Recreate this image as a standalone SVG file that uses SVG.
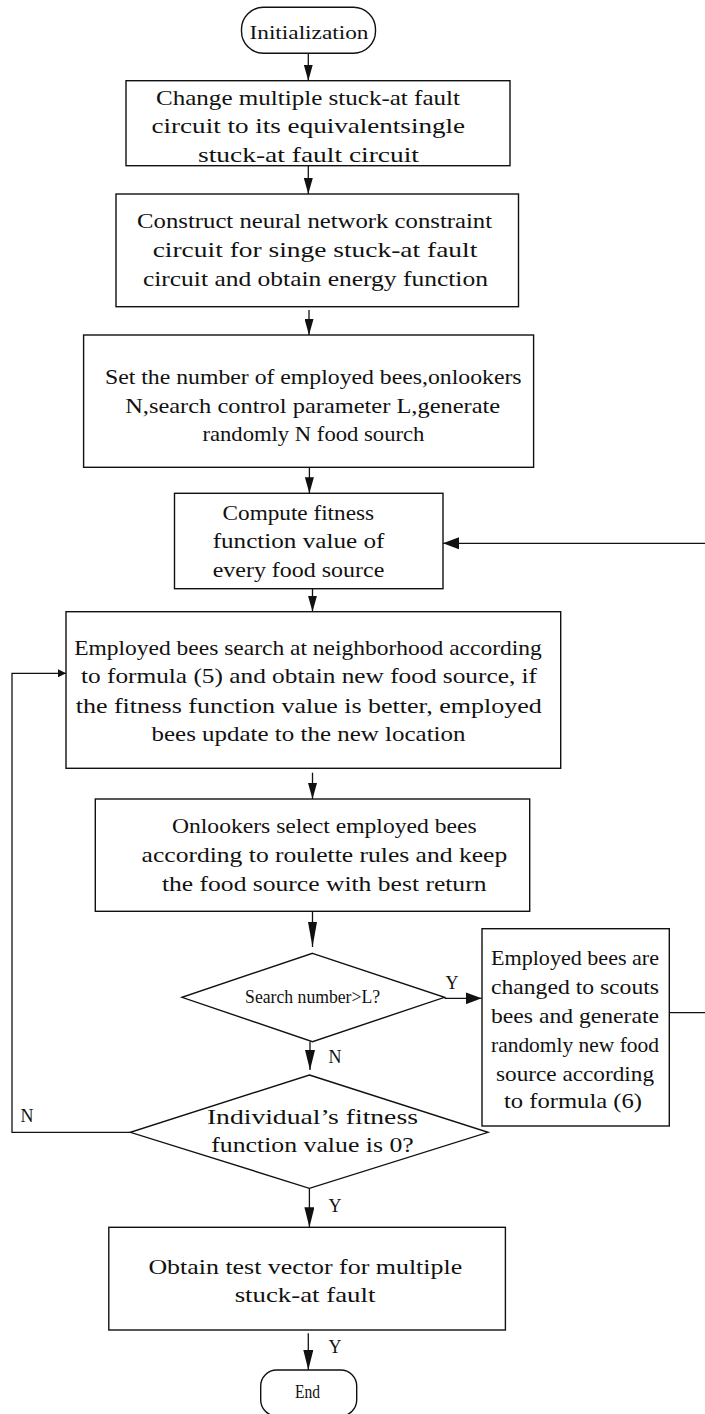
<svg xmlns="http://www.w3.org/2000/svg" width="705" height="1414" viewBox="0 0 705 1414">
<style>
.box{fill:#fff;stroke:#111;stroke-width:1.4}
.ln{fill:none;stroke:#111;stroke-width:1.3}
text{font-family:"Liberation Serif","Noto Serif",serif;fill:#111;text-anchor:middle}
.t{font-size:22px}
.s{font-size:19px}
.l{font-size:18px}
.ah{fill:#111}
</style>
<defs>
<marker id="m16" markerUnits="userSpaceOnUse" markerWidth="16" markerHeight="9" refX="16" refY="4.5" orient="auto"><path class="ah" d="M0,0 L16,4.5 L0,9 z"/></marker>
<marker id="m20" markerUnits="userSpaceOnUse" markerWidth="20" markerHeight="10" refX="20" refY="5" orient="auto"><path class="ah" d="M0,0 L20,5 L0,10 z"/></marker>
<marker id="m25" markerUnits="userSpaceOnUse" markerWidth="25" markerHeight="9" refX="25" refY="4.5" orient="auto"><path class="ah" d="M0,0 L25,4.5 L0,9 z"/></marker>
<marker id="mw" markerUnits="userSpaceOnUse" markerWidth="16" markerHeight="12" refX="16" refY="6" orient="auto"><path class="ah" d="M0,0 L16,6 L0,12 z"/></marker>
<marker id="ms" markerUnits="userSpaceOnUse" markerWidth="8" markerHeight="8" refX="8" refY="4" orient="auto"><path class="ah" d="M0,0 L8,4 L0,8 z"/></marker>
</defs>

<g id="connectors">
<path class="ln" d="M308.3,53.3 V80.7" marker-end="url(#m16)"/>
<path class="ln" d="M308.3,165.7 V194" marker-end="url(#m16)"/>
<path class="ln" d="M309,310 V335" marker-end="url(#m16)"/>
<path class="ln" d="M309.4,467.3 V493.3" marker-end="url(#m16)"/>
<path class="ln" d="M312.5,588.7 V611.7" marker-end="url(#m16)"/>
<path class="ln" d="M312.5,772.7 V799" marker-end="url(#m16)"/>
<path class="ln" d="M312.5,911.3 V947" marker-end="url(#m25)"/>
<path class="ln" d="M310,1041.7 V1070" marker-end="url(#m20)"/>
<path class="ln" d="M309.4,1188.3 V1227.3" marker-end="url(#m20)"/>
<path class="ln" d="M308.3,1333.3 V1370" marker-end="url(#m20)"/>
<path class="ln" d="M444.5,998.3 H481.7" marker-end="url(#mw)"/>
<path class="ln" d="M669.3,1012.7 H712 V543.3 H443" marker-end="url(#mw)"/>
<path class="ln" d="M130.4,1132.3 H12 V673.3 H66" marker-end="url(#ms)"/>
<text class="l" x="452" y="989">Y</text>
<text class="l" x="335" y="1063">N</text>
<text class="l" x="27" y="1122">N</text>
<text class="l" x="335" y="1212">Y</text>
<text class="l" x="335" y="1353">Y</text>
</g>

<g id="start">
<rect class="box" x="241.5" y="7.3" width="134" height="46" rx="22" ry="22"/>
<text class="s" x="309" y="39" textLength="119" lengthAdjust="spacingAndGlyphs">Initialization</text>
</g>

<g id="box1">
<rect class="box" x="126" y="80.7" width="384" height="85"/>
<text class="t" x="308" y="105" textLength="304" lengthAdjust="spacingAndGlyphs">Change multiple stuck-at fault</text>
<text class="t" x="308.3" y="133" textLength="313.5" lengthAdjust="spacingAndGlyphs">circuit to its equivalentsingle</text>
<text class="t" x="308.5" y="162" textLength="221" lengthAdjust="spacingAndGlyphs">stuck-at fault circuit</text>
</g>

<g id="box2">
<rect class="box" x="116" y="194" width="402.5" height="112.7"/>
<text class="t" x="314.6" y="228" textLength="355" lengthAdjust="spacingAndGlyphs">Construct neural network constraint</text>
<text class="t" x="315" y="257" textLength="324.6" lengthAdjust="spacingAndGlyphs">circuit for singe stuck-at fault</text>
<text class="t" x="315.4" y="286" textLength="345" lengthAdjust="spacingAndGlyphs">circuit and obtain energy function</text>
</g>

<g id="box3">
<rect class="box" x="83.6" y="335" width="450" height="132.3"/>
<text class="t" x="313.3" y="384" textLength="416.6" lengthAdjust="spacingAndGlyphs">Set the number of employed bees,onlookers</text>
<text class="t" x="312.7" y="412.7" textLength="375" lengthAdjust="spacingAndGlyphs">N,search control parameter L,generate</text>
<text class="t" x="313.4" y="441" textLength="222" lengthAdjust="spacingAndGlyphs">randomly N food sourch</text>
</g>

<g id="box4">
<rect class="box" x="174.5" y="493.3" width="268.5" height="95.4"/>
<text class="t" x="298.3" y="520" textLength="151.5" lengthAdjust="spacingAndGlyphs">Compute fitness</text>
<text class="t" x="298.5" y="548.3" textLength="171.7" lengthAdjust="spacingAndGlyphs">function value of</text>
<text class="t" x="298.5" y="577.3" textLength="171.7" lengthAdjust="spacingAndGlyphs">every food source</text>
</g>

<g id="box5">
<rect class="box" x="66" y="611.7" width="494.7" height="156.6"/>
<text class="t" x="308" y="655" textLength="467.6" lengthAdjust="spacingAndGlyphs">Employed bees search at neighborhood according</text>
<text class="t" x="309" y="683.3" textLength="456" lengthAdjust="spacingAndGlyphs">to formula (5) and obtain new food source, if</text>
<text class="t" x="308.7" y="712.7" textLength="466" lengthAdjust="spacingAndGlyphs">the fitness function value is better, employed</text>
<text class="t" x="308.5" y="740.7" textLength="314" lengthAdjust="spacingAndGlyphs">bees update to the new location</text>
</g>

<g id="box6">
<rect class="box" x="95.3" y="799" width="434.4" height="112.3"/>
<text class="t" x="324.3" y="833.3" textLength="304.6" lengthAdjust="spacingAndGlyphs">Onlookers select employed bees</text>
<text class="t" x="324.4" y="861.7" textLength="365.6" lengthAdjust="spacingAndGlyphs">according to roulette rules and keep</text>
<text class="t" x="324.2" y="890.7" textLength="324.5" lengthAdjust="spacingAndGlyphs">the food source with best return</text>
</g>

<g id="decision1">
<polygon class="box" points="312.5,953.3 444.5,997.3 312.5,1041.7 182,997.3"/>
<text class="s" x="312.6" y="1003" textLength="135" lengthAdjust="spacingAndGlyphs">Search number&gt;L?</text>
</g>

<g id="scouts">
<rect class="box" x="482" y="928.7" width="187.3" height="197.3"/>
<text class="t" x="575" y="965" textLength="168" lengthAdjust="spacingAndGlyphs">Employed bees are</text>
<text class="t" x="575" y="994.3" textLength="168" lengthAdjust="spacingAndGlyphs">changed to scouts</text>
<text class="t" x="575" y="1023.3" textLength="168" lengthAdjust="spacingAndGlyphs">bees and generate</text>
<text class="t" x="575" y="1051.7" textLength="168" lengthAdjust="spacingAndGlyphs">randomly new food</text>
<text class="t" x="575" y="1081" textLength="158" lengthAdjust="spacingAndGlyphs">source according</text>
<text class="t" x="573" y="1108.3" textLength="138" lengthAdjust="spacingAndGlyphs">to formula (6)</text>
</g>

<g id="decision2">
<polygon class="box" points="309.4,1075 488,1132.3 309.4,1188.3 130.4,1132.3"/>
<text class="t" x="312.4" y="1124" textLength="211" lengthAdjust="spacingAndGlyphs">Individual’s fitness</text>
<text class="t" x="312.5" y="1152.3" textLength="202.4" lengthAdjust="spacingAndGlyphs">function value is 0?</text>
</g>

<g id="box7">
<rect class="box" x="108.8" y="1227.3" width="396.6" height="102.7"/>
<text class="t" x="305.3" y="1274" textLength="313.8" lengthAdjust="spacingAndGlyphs">Obtain test vector for multiple</text>
<text class="t" x="305" y="1301.7" textLength="140.7" lengthAdjust="spacingAndGlyphs">stuck-at fault</text>
</g>

<g id="end">
<rect class="box" x="260.7" y="1370" width="96" height="46" rx="16" ry="16"/>
<text class="s" x="307.5" y="1398.3" textLength="25" lengthAdjust="spacingAndGlyphs">End</text>
</g>
</svg>
